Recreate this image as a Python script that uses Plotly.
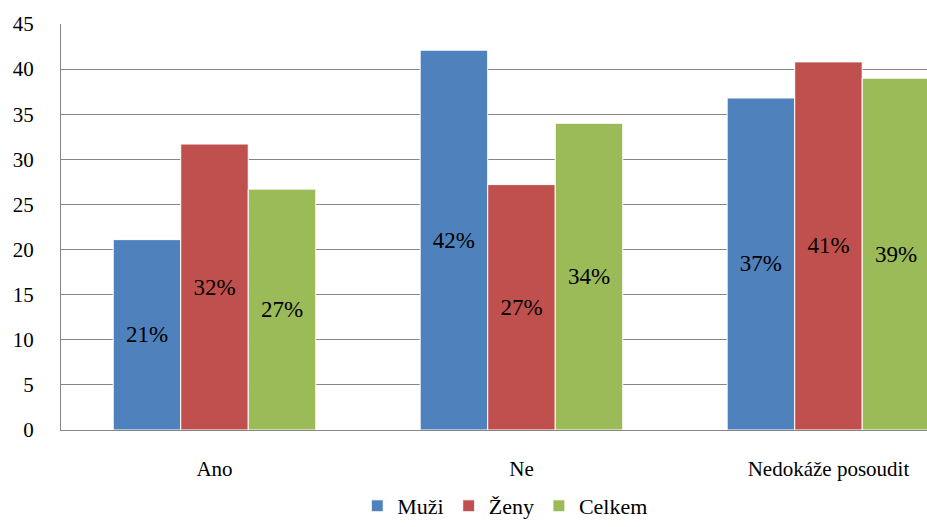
import plotly.graph_objects as go

categories = ["Ano", "Ne", "Nedokáže posoudit"]
series_names = ["Muži", "Ženy", "Celkem"]
muzi = [21.1, 42.1, 36.8]
zeny = [31.7, 27.2, 40.8]
celkem = [26.7, 34.0, 39.0]
y_ticks = [0, 5, 10, 15, 20, 25, 30, 35, 40, 45]
colors = ["#4F81BD", "#C0504D", "#9BBB59"]

FONT = "'Liberation Serif', 'Times New Roman', 'DejaVu Serif', serif"

fig = go.Figure()
for name, vals, col in zip(series_names, [muzi, zeny, celkem], colors):
    fig.add_trace(go.Bar(
        x=categories, y=vals, name=name,
        marker=dict(color=col, line=dict(color="white", width=1)),
        text=[f"{round(v)}%" for v in vals],
        textposition="inside", insidetextanchor="middle",
        textfont=dict(family=FONT, size=23, color="black"),
        textangle=0,
    ))

fig.update_layout(
    width=927, height=527,
    margin=dict(l=61, r=0, t=24, b=97, autoexpand=False),
    paper_bgcolor="white", plot_bgcolor="white",
    barmode="group", bargap=0.34, bargroupgap=0,
    font=dict(family=FONT, size=20, color="black"),
    showlegend=True,
    legend=dict(orientation="h", x=0.513, xanchor="center",
                yref="container", y=0.0, yanchor="bottom",
                font=dict(family=FONT, size=22), traceorder="normal", itemwidth=30),
    xaxis=dict(range=[-0.5, 2.321], showgrid=False, showline=True, linecolor="#868686",
               linewidth=1, ticks="", ticklabelstandoff=20,
               tickfont=dict(family=FONT, size=21)),
    yaxis=dict(range=[0, 45], tickvals=y_ticks, showgrid=True, gridcolor="#868686",
               gridwidth=1, showline=True, linecolor="#868686", linewidth=1,
               ticks="", ticklabelstandoff=22, zeroline=False,
               tickfont=dict(family=FONT, size=21)),
)

fig.write_html("out.html")
